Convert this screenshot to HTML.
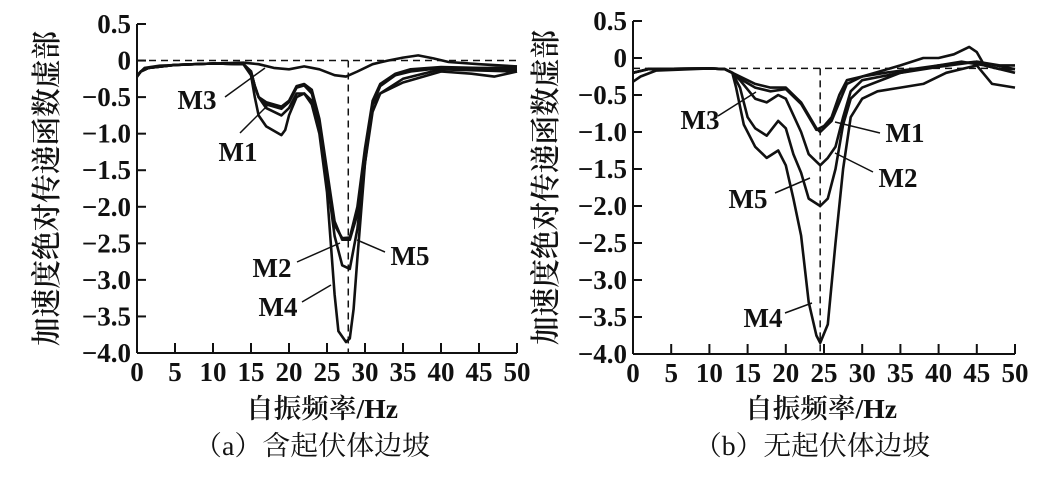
<!DOCTYPE html>
<html><head><meta charset="utf-8"><style>
body{margin:0;background:#fff;}
svg text{font-family:"Liberation Serif","Noto Serif CJK SC",serif;fill:#111;}
.t{font-size:27px;font-weight:bold;}
.c{font-size:30px;font-weight:600;}
.x{font-size:27px;font-weight:600;}
.p{font-size:27px;}
</style></head><body>
<svg id="s" width="1064" height="475" xmlns="http://www.w3.org/2000/svg"></svg>
<script>
const S=document.getElementById('s');let h='';
function chart(x0,x1,yTop,yBot,vTop,vBot,hv,vf,curves,labels,ylx,cx,capx,cap){
 const X=f=>x0+(x1-x0)*f/50, Y=v=>yTop+(yBot-yTop)*(vTop-v)/(vTop-vBot);
 h+=`<line x1="${x0}" y1="${yTop}" x2="${x0}" y2="${yBot}" stroke="#111" stroke-width="2"/>`;
 h+=`<line x1="${x0}" y1="${yBot}" x2="${x1}" y2="${yBot}" stroke="#111" stroke-width="2"/>`;
 for(let i=0;i<=9;i++){const v=0.5-i*0.5,y=Y(v);
  h+=`<line x1="${x0}" y1="${y}" x2="${x0+9}" y2="${y}" stroke="#111" stroke-width="2"/>`;
  const l=v==0?'0':(v<0?'−':'')+Math.abs(v).toFixed(1);
  h+=`<text class="t" x="${x0-6}" y="${y+9}" text-anchor="end">${l}</text>`;}
 for(let i=0;i<=10;i++){const x=X(i*5);
  h+=`<line x1="${x}" y1="${yBot-10}" x2="${x}" y2="${yBot}" stroke="#111" stroke-width="2"/>`;
  h+=`<text class="t" x="${x}" y="${yBot+28}" text-anchor="middle">${i*5}</text>`;}
 h+=`<line x1="${x0}" y1="${Y(hv)}" x2="${x1}" y2="${Y(hv)}" stroke="#111" stroke-width="1.5" stroke-dasharray="7,5"/>`;
 h+=`<line x1="${X(vf)}" y1="${Y(hv)}" x2="${X(vf)}" y2="${yBot}" stroke="#111" stroke-width="1.5" stroke-dasharray="7,5"/>`;
 curves.forEach(c=>{let d='';for(let i=0;i<c.length;i+=2)d+=(i?'L':'M')+X(c[i]).toFixed(1)+','+Y(c[i+1]).toFixed(1);
  h+=`<path d="${d}" fill="none" stroke="#111" stroke-width="2.6" stroke-linejoin="round"/>`;});
 labels.forEach(l=>{h+=`<line x1="${l[3]}" y1="${l[4]}" x2="${l[5]}" y2="${l[6]}" stroke="#111" stroke-width="1.5"/>`;
  h+=`<text class="t" x="${l[1]}" y="${l[2]+9}" text-anchor="middle">${l[0]}</text>`;});
 h+=`<text class="c" transform="translate(${ylx},${(yTop+yBot)/2}) rotate(-90)" text-anchor="middle" textLength="315" lengthAdjust="spacingAndGlyphs">加速度绝对传递函数虚部</text>`;
 h+=`<text class="x" x="${cx}" y="418" text-anchor="middle" textLength="152" lengthAdjust="spacingAndGlyphs">自振频率/Hz</text>`;
 h+=`<text class="p" x="${capx}" y="455" text-anchor="middle" textLength="236" lengthAdjust="spacingAndGlyphs">${cap}</text>`;
}
const cm=[0,-0.22,0.5,-0.15,1.5,-0.1,5,-0.06,10,-0.04,14,-0.05,15,-0.15,15.5,-0.35,16,-0.5];
chart(137,517,24,353,0.5,-4,0,27.8,[
 [0,-0.2,1,-0.1,3,-0.07,10,-0.04,14,-0.03,16,-0.05,18,-0.1,20,-0.12,22,-0.08,24,-0.12,26,-0.2,27.5,-0.22,29,-0.15,31,-0.05,33,0,35,0.04,37,0.07,39,0.03,41,-0.02,45,-0.05,50,-0.08],
 cm.concat([17,-0.57,19,-0.63,20,-0.55,21,-0.35,22,-0.32,23,-0.4,24,-0.8,25,-1.5,26,-2.2,27,-2.45,28,-2.45,29,-2.1,30,-1.3,31,-0.6,32,-0.35,34,-0.2,36,-0.15,40,-0.1,45,-0.12,50,-0.12]),
 cm.concat([17,-0.6,19,-0.66,20,-0.57,21,-0.37,22,-0.34,23,-0.45,24,-0.85,25,-1.55,26,-2.25,27,-2.43,28,-2.42,29,-2.0,30,-1.2,31,-0.55,32,-0.32,34,-0.18,36,-0.12,40,-0.09,45,-0.1,50,-0.1]),
 cm.concat([17,-0.65,19,-0.75,20,-0.65,21,-0.45,22,-0.45,23,-0.55,24,-0.9,25,-1.6,26,-2.4,27,-2.8,28,-2.85,29,-2.3,30,-1.4,31,-0.7,32,-0.45,35,-0.25,40,-0.12,50,-0.15]),
 [0,-0.22,0.5,-0.15,1.5,-0.1,5,-0.06,10,-0.04,14,-0.05,15,-0.2,15.5,-0.5,16,-0.75,17,-0.9,19,-1.02,19.5,-0.95,20,-0.75,21,-0.5,22,-0.45,23,-0.6,24,-1.0,25,-1.8,26,-3.2,26.5,-3.7,27.5,-3.85,28,-3.8,28.5,-3.4,29,-2.7,30,-1.4,31,-0.6,32,-0.45,35,-0.3,40,-0.15,44,-0.18,47,-0.22,50,-0.15]
],[["M3",197,100,225,97,265,68],["M1",238,152,240,133,270,103],["M2",272,268,297,262,340,243],["M5",410,256,385,252,357,240],["M4",278,307,302,302,331,285]],57,322,312,"（a）含起伏体边坡");
const cr=[0,-0.2,2,-0.15,10,-0.14,12,-0.15,13,-0.2];
chart(633,1015,21,354,0.5,-4,-0.14,24.5,[
 [0,-0.32,1,-0.25,3,-0.17].concat([10,-0.14,12,-0.15,13,-0.2,14,-0.25,16,-0.35,18,-0.4,20,-0.4,22,-0.6,24,-0.95,24.5,-1.0,25,-0.95,26,-0.85,27,-0.6,28,-0.35,30,-0.25,33,-0.2,40,-0.1,45,-0.05,50,-0.15]),
 cr.concat([14,-0.28,16,-0.4,18,-0.45,20,-0.42,22,-0.62,24,-0.97,25,-0.92,26,-0.8,27,-0.5,28,-0.3,30,-0.25,35,-0.1,38,0.0,40,0.0,42,0.05,44,0.15,45,0.08,46,-0.1,48,-0.15,50,-0.15]),
 cr.concat([14,-0.3,16,-0.55,17.5,-0.6,19,-0.5,20,-0.55,22,-1.0,23,-1.3,24.5,-1.45,25.5,-1.35,26.5,-1.2,27.5,-0.8,28.5,-0.45,30,-0.3,35,-0.2,40,-0.12,45,-0.05,48,-0.1,50,-0.1]),
 cr.concat([14,-0.4,15,-0.8,16,-0.95,17.5,-1.05,19,-0.85,20,-0.95,21,-1.3,22,-1.55,23,-1.9,24.5,-2.0,25.5,-1.9,26.5,-1.5,27.5,-0.9,28.5,-0.55,30,-0.4,35,-0.2,40,-0.1,43,-0.05,46,-0.1,50,-0.2]),
 cr.concat([13.5,-0.4,14.5,-0.9,16,-1.2,17.5,-1.35,19,-1.25,20,-1.45,21,-1.9,22,-2.4,23,-3.3,24,-3.75,24.5,-3.85,25.5,-3.6,26.5,-2.5,27.5,-1.5,28.5,-0.8,30,-0.55,32,-0.45,35,-0.4,38,-0.35,41,-0.2,45,-0.1,47,-0.35,50,-0.4])
],[["M3",700,120,718,116,756,92],["M1",905,133,880,133,835,122],["M2",898,178,873,172,835,153],["M5",748,199,775,193,810,178],["M4",763,318,785,313,812,303]],556,821,812,"（b）无起伏体边坡");
S.innerHTML=h;
</script>
</body></html>
